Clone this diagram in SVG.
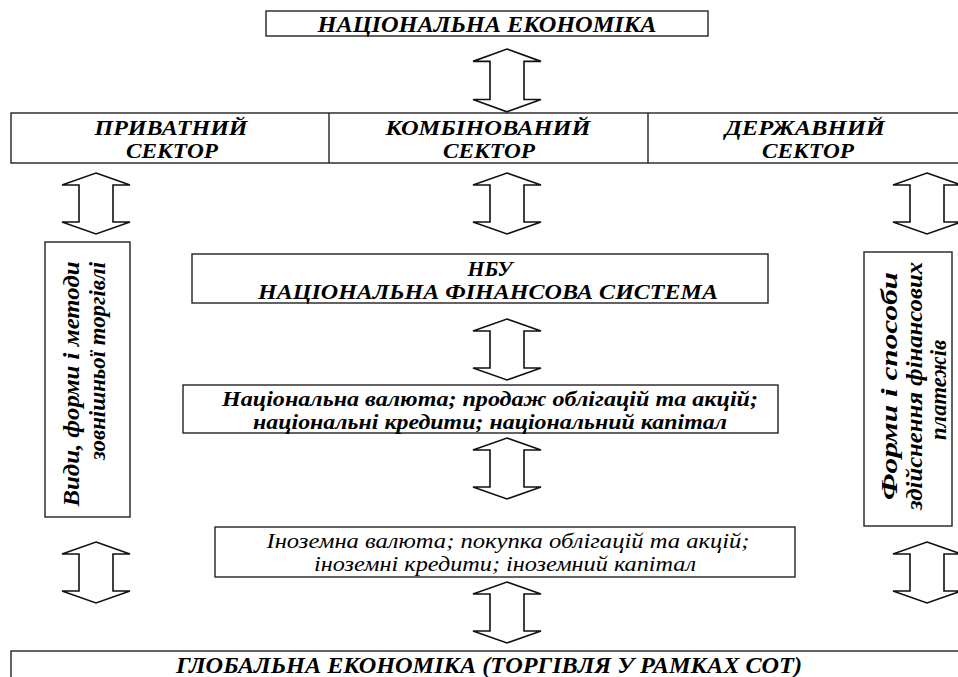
<svg xmlns="http://www.w3.org/2000/svg" width="958" height="677" viewBox="0 0 958 677">
<style>
.box{fill:#fff;stroke:#222;stroke-width:1.4}
.ln{fill:none;stroke:#222;stroke-width:1.4}
.arr{fill:#fff;stroke:#111;stroke-width:1.6;stroke-linejoin:miter}
text{font-family:'Liberation Serif','Times New Roman',serif;font-style:italic;fill:#000;text-anchor:middle}
.t{font-weight:bold}
.r{font-weight:normal}
</style>
<defs>
<path id="dbl" d="M0,0 L34,12 L17,12 L17,49 L34,49 L0,61 L-34,49 L-17,49 L-17,12 L-34,12 Z"/>
</defs>
<rect width="958" height="677" fill="#fff"/>
<g id="connectors">
<use href="#dbl" class="arr" transform="translate(507,49) scale(1,1.03)"/>
<use href="#dbl" class="arr" transform="translate(96,173)"/>
<use href="#dbl" class="arr" transform="translate(507,173)"/>
<use href="#dbl" class="arr" transform="translate(927,173)"/>
<use href="#dbl" class="arr" transform="translate(507,319)"/>
<use href="#dbl" class="arr" transform="translate(507,438)"/>
<use href="#dbl" class="arr" transform="translate(96,542)"/>
<use href="#dbl" class="arr" transform="translate(927,542)"/>
<use href="#dbl" class="arr" transform="translate(507,582)"/>
</g>
<g id="national-economy">
<rect class="box" x="266" y="11" width="442" height="25"/>
<text class="t" x="487" y="32" font-size="24" textLength="339" lengthAdjust="spacingAndGlyphs">НАЦІОНАЛЬНА ЕКОНОМІКА</text>
</g>
<g id="sectors">
<rect class="box" x="11" y="113" width="960" height="50"/>
<line class="ln" x1="329" y1="113" x2="329" y2="163"/>
<line class="ln" x1="648" y1="113" x2="648" y2="163"/>
</g>
<g id="private-sector">
<text class="t" x="171" y="135" font-size="20" textLength="153" lengthAdjust="spacingAndGlyphs">ПРИВАТНИЙ</text>
<text class="t" x="172" y="158" font-size="20" textLength="92" lengthAdjust="spacingAndGlyphs">СЕКТОР</text>
</g>
<g id="combined-sector">
<text class="t" x="488" y="135" font-size="20" textLength="205" lengthAdjust="spacingAndGlyphs">КОМБІНОВАНИЙ</text>
<text class="t" x="489" y="158" font-size="20" textLength="92" lengthAdjust="spacingAndGlyphs">СЕКТОР</text>
</g>
<g id="state-sector">
<text class="t" x="805" y="135" font-size="20" textLength="160" lengthAdjust="spacingAndGlyphs">ДЕРЖАВНИЙ</text>
<text class="t" x="808" y="158" font-size="20" textLength="92" lengthAdjust="spacingAndGlyphs">СЕКТОР</text>
</g>
<g id="trade-forms">
<rect class="box" x="45" y="242" width="85" height="275"/>
<text class="t" transform="translate(79,384) rotate(-90)" font-size="23" textLength="245" lengthAdjust="spacingAndGlyphs">Види, форми і методи</text>
<text class="t" transform="translate(105,361) rotate(-90)" font-size="23" textLength="198" lengthAdjust="spacingAndGlyphs">зовнішньої торгівлі</text>
</g>
<g id="nbu">
<rect class="box" x="192" y="254" width="576" height="49"/>
<text class="t" x="490" y="276" font-size="21" textLength="45" lengthAdjust="spacingAndGlyphs">НБУ</text>
<text class="t" x="488" y="299" font-size="21" textLength="460" lengthAdjust="spacingAndGlyphs">НАЦІОНАЛЬНА ФІНАНСОВА СИСТЕМА</text>
</g>
<g id="payments">
<rect class="box" x="864" y="252" width="88" height="274"/>
<text class="t" transform="translate(897,386) rotate(-90)" font-size="23" textLength="228" lengthAdjust="spacingAndGlyphs">Форми і способи</text>
<text class="t" transform="translate(922,386) rotate(-90)" font-size="23" textLength="248" lengthAdjust="spacingAndGlyphs">здійснення фінансових</text>
<text class="t" transform="translate(946,390) rotate(-90)" font-size="23" textLength="100" lengthAdjust="spacingAndGlyphs">платежів</text>
</g>
<g id="national-currency">
<rect class="box" x="183" y="385" width="595" height="48"/>
<text class="t" x="490" y="406" font-size="21" textLength="536" lengthAdjust="spacingAndGlyphs">Національна валюта; продаж облігацій та акцій;</text>
<text class="t" x="490" y="429" font-size="21" textLength="474" lengthAdjust="spacingAndGlyphs">національні кредити; національний капітал</text>
</g>
<g id="foreign-currency">
<rect class="box" x="215" y="527" width="580" height="50"/>
<text class="r" x="508" y="548" font-size="20" textLength="483" lengthAdjust="spacingAndGlyphs">Іноземна валюта; покупка облігацій та акцій;</text>
<text class="r" x="505" y="571" font-size="20" textLength="382" lengthAdjust="spacingAndGlyphs">іноземні кредити; іноземний капітал</text>
</g>
<g id="global-economy">
<rect class="box" x="11" y="651" width="960" height="40"/>
<text class="t" x="489" y="673" font-size="24" textLength="626" lengthAdjust="spacingAndGlyphs">ГЛОБАЛЬНА ЕКОНОМІКА (ТОРГІВЛЯ У РАМКАХ СОТ)</text>
</g>
</svg>
